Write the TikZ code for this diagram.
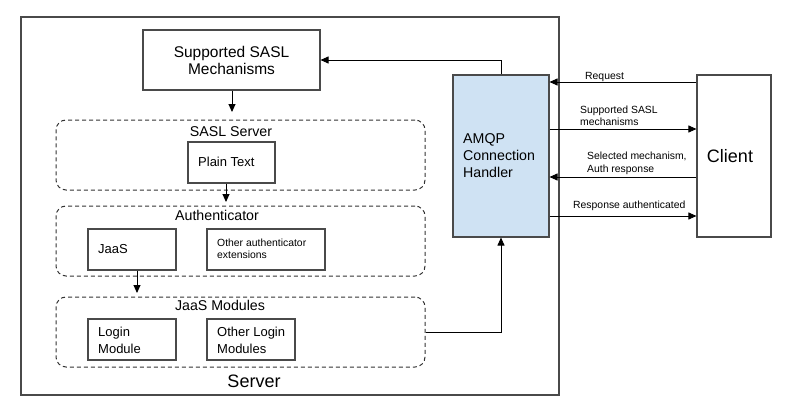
\documentclass[tikz,border=0pt]{standalone}
\usepackage{fontspec}
\setmainfont{Liberation Sans}
\usetikzlibrary{arrows.meta}
\definecolor{edge}{HTML}{4A4A4A}
\definecolor{dashc}{HTML}{333333}
\definecolor{amqpfill}{HTML}{CFE2F3}
\tikzset{
  box/.style={draw=edge, line width=1.1pt, rectangle, inner sep=0pt},
  group/.style={draw=dashc, line width=1pt, dash pattern=on 4pt off 3pt, rounded corners=10pt, inner sep=0pt},
  txt/.style={inner sep=0pt, align=left, text=black},
  arr/.style={draw=black, line width=0.9pt, -{Triangle[length=8pt,width=7pt]}},
  fbig/.style={font=\fontsize{18}{20}\selectfont},
  fmed/.style={font=\fontsize{14.2}{17}\selectfont},
  fbox/.style={font=\fontsize{13}{17}\selectfont},
  fsmall/.style={font=\fontsize{10.4}{12.5}\selectfont},
}
\begin{document}
\begin{tikzpicture}[x=1pt,y=-1pt]
\useasboundingbox (0,0) rectangle (793,415);
% containers
\node[box, line width=1.3pt, minimum width=538pt, minimum height=378pt] (server) at (290,206) {};
\node[group, minimum width=369pt, minimum height=70pt] (saslgrp) at (240.5,155) {};
\node[group, minimum width=369pt, minimum height=70pt] (authgrp) at (240.5,241) {};
\node[group, minimum width=369pt, minimum height=70pt] (jmodgrp) at (240.5,332) {};
% boxes
\node[box, fill=white, minimum width=177pt, minimum height=60pt] (sasl) at (231.5,60) {};
\node[box, minimum width=87pt, minimum height=41pt] (plain) at (231.5,162.5) {};
\node[box, minimum width=88pt, minimum height=41pt] (jaas) at (132,249.5) {};
\node[box, minimum width=118pt, minimum height=41pt] (other) at (266,249.5) {};
\node[box, minimum width=88pt, minimum height=41pt] (login) at (132,339.5) {};
\node[box, minimum width=88pt, minimum height=41pt] (otherlogin) at (251,339.5) {};
\node[box, fill=amqpfill, minimum width=96pt, minimum height=162pt] (amqp) at (501,156) {};
\node[box, minimum width=74pt, minimum height=162pt] (client) at (734,156) {};
% texts
\node[txt, align=center, font=\fontsize{15.5}{17}\selectfont] (tsasl) at (231.5,60.5) {Supported SASL\\Mechanisms};
\node[txt, fmed] (tsaslgrp) at (231,132) {SASL Server};
\node[txt, fbox, anchor=west] (tplain) at (198,162) {Plain Text};
\node[txt, fmed] (tauthgrp) at (217,215) {Authenticator};
\node[txt, fbox, anchor=west] (tjaas) at (98,249) {JaaS};
\node[txt, fsmall, anchor=west] (tother) at (217,249) {Other authenticator\\extensions};
\node[txt, fmed] (tjmodgrp) at (220,305) {JaaS Modules};
\node[txt, fbox, anchor=west] (tlogin) at (98,340.5) {Login\\Module};
\node[txt, fbox, anchor=west] (totherlogin) at (217,340.5) {Other Login\\Modules};
\node[txt, fbig] (tserver) at (254,381) {Server};
\node[txt, fmed, anchor=west] (tamqp) at (463,156) {AMQP\\Connection\\Handler};
\node[txt, fbig] (tclient) at (730,156) {Client};
% internal arrows
\coordinate (c1) at (232,112);
\draw[arr] (sasl.south -| c1) -- (c1);
\coordinate (c2) at (226,202);
\draw[arr] (plain.south -| c2) -- (c2);
\coordinate (c3) at (137,293);
\draw[arr] (jaas.south -| c3) -- (c3);
\coordinate (c4) at (501,60);
\draw[arr] (amqp.north) -- (c4) -- (sasl.east |- c4);
\coordinate (c5) at (501,332);
\draw[arr] (jmodgrp.east |- c5) -- (c5) -- (amqp.south);
% client arrows
\coordinate (r1) at (0,82);
\draw[arr] (client.west |- r1) -- (amqp.east |- r1);
\node[txt, fsmall, anchor=west] (lreq) at (585,77) {Request};
\coordinate (r2) at (0,129);
\draw[arr] (amqp.east |- r2) -- (client.west |- r2);
\node[txt, fsmall, anchor=west] (lsup) at (580,116) {Supported SASL\\mechanisms};
\coordinate (r3) at (0,177);
\draw[arr] (client.west |- r3) -- (amqp.east |- r3);
\node[txt, fsmall, anchor=west] (lsel) at (587,163.5) {Selected mechanism,\\Auth response};
\coordinate (r4) at (0,216);
\draw[arr] (amqp.east |- r4) -- (client.west |- r4);
\node[txt, fsmall, anchor=west] (lresp) at (573,206) {Response authenticated};
\end{tikzpicture}
\end{document}
